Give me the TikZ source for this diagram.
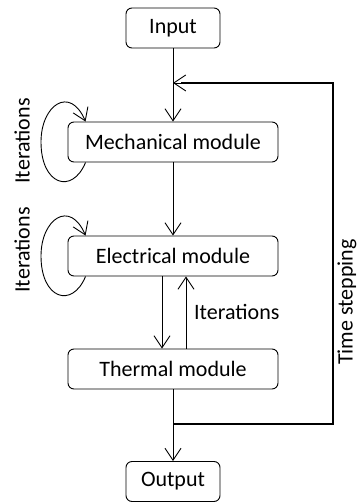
\documentclass[tikz,border=0pt]{standalone}
\usepackage{fontspec}
\setmainfont{Carlito}
\usetikzlibrary{arrows.meta}
\tikzset{
  module/.style={draw, rounded corners=6pt, line width=0.9pt, minimum width=210pt, minimum height=40pt, inner sep=0pt},
  term/.style={module, minimum width=94pt},
  flow/.style={line width=0.9pt, -{Straight Barb[length=12pt,width=16pt,line width=0.9pt]}},
  tstep/.style={line width=2pt},
  lbl/.style={inner sep=0pt}
}
\begin{document}
\begin{tikzpicture}[x=1pt, y=-1pt, every node/.append style={font=\fontsize{22}{26}\selectfont}]
    \useasboundingbox (0,0) rectangle (361,502);
    \node[term] (in) at (173, 28) {Input};
    \node[module] (mech) at (173, 142) {Mechanical module};
    \node[module] (elec) at (173, 256) {Electrical module};
    \node[module] (therm) at (173, 369) {Thermal module};
    \node[term] (out) at (173, 481.5) {Output};
    % time stepping loop
    \coordinate (join) at (173, 424);
    \coordinate (c1) at (333, 424);
    \coordinate (c2) at (333, 83);
    \coordinate (back) at (173, 83);
    \draw[tstep] (join) -- (c1) -- (c2) -- ([xshift=8pt]back);
    \draw[flow] ([xshift=9pt]back) -- (back);
    % main flow
    \draw[flow] (in) -- (mech);
    \draw[flow] (mech) -- (elec);
    \draw[flow] ([xshift=-11pt]elec.south) -- ([xshift=-11pt]therm.north);
    \draw[flow] ([xshift=13pt]therm.north) -- ([xshift=13pt]elec.south);
    \draw[flow] (therm) -- (out);
    % iteration loops
    \draw[flow] ([xshift=18pt]mech.south west) .. controls (72, 195) and (41, 185) .. (41, 142)
        .. controls (41, 105) and (70, 85) .. ([xshift=18pt]mech.north west);
    \draw[flow] ([xshift=18pt]elec.south west) .. controls (72, 309) and (41, 299) .. (41, 256)
        .. controls (41, 219) and (70, 199) .. ([xshift=18pt]elec.north west);
    % labels
    \node[lbl, rotate=90] (it1) at (22, 141) {Iterations};
    \node[lbl, rotate=90] (it2) at (22, 250) {Iterations};
    \node[lbl, anchor=west] (it3) at (194, 312) {Iterations};
    \node[lbl, rotate=90] (ts) at (347, 302) {Time stepping};
\end{tikzpicture}
\end{document}
